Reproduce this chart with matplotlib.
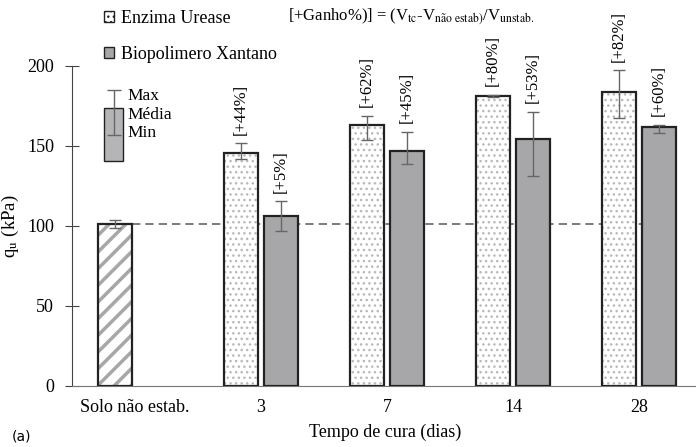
import numpy as np
import matplotlib.pyplot as plt
from matplotlib.patches import Patch

plt.rcParams.update({
    'font.family': ['Liberation Serif', 'DejaVu Serif'],
    'mathtext.fontset': 'stix',
    'hatch.linewidth': 2.5,
})

# --- data (kPa) ---
categories = ['Solo não estab.', '3', '7', '14', '28']
solo_mean = 101.0
solo_min, solo_max = 98.5, 103.5
urease_mean = [145.8, 163.0, 181.4, 183.7]
urease_min = [141.7, 154.0, 180.5, 167.7]
urease_max = [151.7, 169.0, 182.0, 197.5]
xantano_mean = [106.2, 146.9, 154.4, 161.7]
xantano_min = [97.0, 139.0, 131.0, 158.0]
xantano_max = [115.5, 159.0, 171.4, 163.3]
urease_gain = ['[+44%]', '[+62%]', '[+80%]', '[+82%]']
xantano_gain = ['[+5%]', '[+45%]', '[+53%]', '[+60%]']

x = np.arange(len(categories))
w = 0.27
off = 0.16
grey = '#a7a7a9'
errc = '#666666'

fig = plt.figure(figsize=(6.96, 4.47), dpi=100)
ax = fig.add_axes([72/696, 61/447, 630/696, 320/447])

# untreated soil
ax.bar(x[0] - off, solo_mean, w, color='white', edgecolor=grey, hatch='//', linewidth=0, zorder=2)
ax.bar(x[0] - off, solo_mean, w, color='none', edgecolor='#222222', linewidth=1.6, zorder=3)
ax.errorbar(x[0] - off, solo_mean, yerr=[[solo_mean - solo_min], [solo_max - solo_mean]],
            fmt='none', ecolor=errc, elinewidth=1, capsize=4, zorder=4)

# urease
xs = x[1:] - off
plt.rcParams['hatch.linewidth'] = 1.0
ax.bar(xs, urease_mean, w, color='white', edgecolor='#b8b8b8', hatch='...', linewidth=0, zorder=2)
ax.bar(xs, urease_mean, w, color='none', edgecolor='#222222', linewidth=1.6, zorder=3)
ax.errorbar(xs, urease_mean,
            yerr=[np.subtract(urease_mean, urease_min), np.subtract(urease_max, urease_mean)],
            fmt='none', ecolor=errc, elinewidth=1, capsize=4, zorder=4)

# xanthan
xx = x[1:] + off
ax.bar(xx, xantano_mean, w, color=grey, edgecolor='#222222', linewidth=1.6, zorder=3)
ax.errorbar(xx, xantano_mean,
            yerr=[np.subtract(xantano_mean, xantano_min), np.subtract(xantano_max, xantano_mean)],
            fmt='none', ecolor=errc, elinewidth=1, capsize=4, zorder=4)

# gain labels
for xi, top, lab in zip(xs, urease_max, urease_gain):
    ax.annotate(lab, (xi, top), xytext=(0, 6), textcoords='offset points',
                rotation=90, ha='center', va='bottom', fontsize=12)
for xi, top, lab in zip(xx, xantano_max, xantano_gain):
    ax.annotate(lab, (xi, top), xytext=(0, 6), textcoords='offset points',
                rotation=90, ha='center', va='bottom', fontsize=12)

# reference line
ax.plot([x[0] - off + w/2, xx[-1] + w/2], [solo_mean, solo_mean],
        color='#666666', linestyle=(0, (5, 3)), linewidth=1.2, zorder=1)

# inset key (max / mean / min)
ax.bar(x[0] - off - 0.01, 173.75 - 140.6, 0.15, bottom=140.6, color='#b5b5b7',
       edgecolor='#222222', linewidth=1.0, zorder=3)
ax.errorbar(x[0] - off - 0.01, 173.75, yerr=[[173.75 - 157], [185 - 173.75]],
            fmt='none', ecolor=errc, elinewidth=1, capsize=5, zorder=4)
for yv, t in [(181, 'Max'), (169.5, 'Média'), (158, 'Min')]:
    ax.text(x[0] - off + 0.1, yv, t, ha='left', va='center', fontsize=12.5)

ax.set_xlim(-0.5, 4.5)
ax.set_ylim(0, 200)
ax.set_yticks([0, 50, 100, 150, 200])
ax.set_xticks(x)
ax.set_xticklabels(categories)
ax.tick_params(axis='x', length=0, labelsize=13, pad=9)
ax.tick_params(axis='y', direction='inout', length=10, labelsize=13, color='#444444', pad=8)
for s in ['top', 'right']:
    ax.spines[s].set_visible(False)
ax.spines['left'].set_color('#444444')
ax.spines['bottom'].set_color('#777777')
ax.set_ylabel('q$_{\\mathrm{u}}$ (kPa)', fontsize=13.5, labelpad=4)
fig.text(385/696, 1 - 432/447, 'Tempo de cura (dias)', ha='center', va='center', fontsize=13)
fig.text(12/696, 1 - 437/447, '(a)', ha='left', va='center', fontsize=10, family='DejaVu Sans')

# legend
handles = [Patch(facecolor='white', edgecolor='#222222', hatch='...', linewidth=1.0),
           Patch(facecolor=grey, edgecolor='#222222', linewidth=1.0)]
fig.legend(handles, ['Enzima Urease', 'Biopolimero Xantano'], loc='upper left',
           bbox_to_anchor=(88/696, 1.015), frameon=False, fontsize=13,
           handlelength=0.55, handleheight=0.55, handletextpad=0.35, labelspacing=1.05)

fig.text(288/696, 1 - 17/447,
         '[+Ganho%)] = (V$_{\\mathrm{tc}}$-V$_{\\mathrm{não\\ estab)}}$/V$_{\\mathrm{unstab.}}$',
         ha='left', va='center', fontsize=12)

fig.savefig('out.png', dpi=100)
